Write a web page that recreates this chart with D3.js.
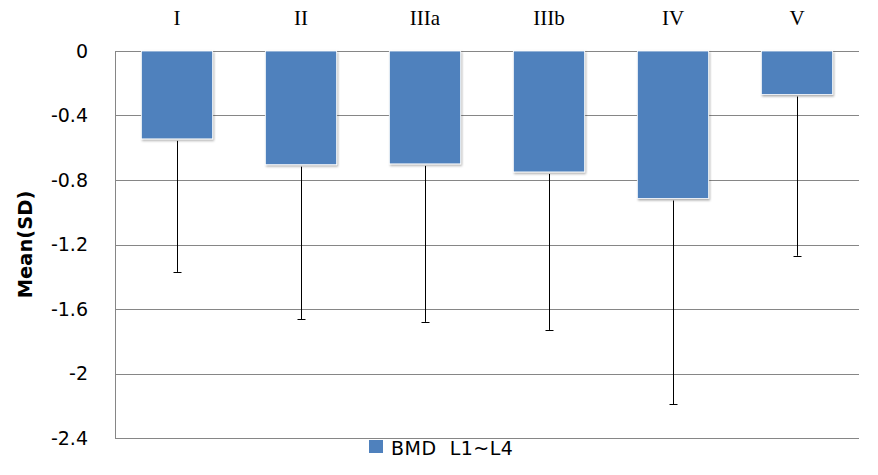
<!DOCTYPE html>
<html><head><meta charset="utf-8">
<script src="https://cdn.jsdelivr.net/npm/d3@7"></script>
<style>
body{margin:0;background:#fff;}
svg{display:block;}
</style></head>
<body>
<svg id="chart" width="878" height="475"></svg>
<script>
const categories = ["I","II","IIIa","IIIb","IV","V"];
const means = [-0.545, -0.705, -0.70, -0.75, -0.915, -0.27];
const lowerEnds = [-1.37, -1.665, -1.68, -1.73, -2.19, -1.27];
const yTicks = [0, -0.4, -0.8, -1.2, -1.6, -2, -2.4];
const seriesName = "BMD  L1~L4";
const yTitle = "Mean(SD)";

const svg = d3.select("#chart");
const m = {left:115, right:19, top:51, bottom:37};
const W = 878, H = 475;
const x = d3.scaleBand().domain(categories).range([m.left, W - m.right]).paddingInner(0.425).paddingOuter(0.2125);
const y = d3.scaleLinear().domain([-2.4, 0]).range([H - m.bottom, m.top]);

const defs = svg.append("defs");
const f = defs.append("filter").attr("id","sh").attr("x","-10%").attr("y","-10%").attr("width","130%").attr("height","130%");
f.append("feDropShadow").attr("dx",1).attr("dy",1.5).attr("stdDeviation",1).attr("flood-color","#000").attr("flood-opacity",0.35);

// gridlines
svg.append("g").selectAll("line").data(yTicks).join("line")
  .attr("x1", m.left).attr("x2", W - m.right)
  .attr("y1", d => Math.round(y(d)) + 0.5).attr("y2", d => Math.round(y(d)) + 0.5)
  .attr("stroke", "#868686").attr("stroke-width", 1);
// left axis line
svg.append("line").attr("x1", m.left + 0.5).attr("x2", m.left + 0.5)
  .attr("y1", y(0)).attr("y2", y(-2.4)).attr("stroke", "#868686");

const sans = "'DejaVu Sans', 'Noto Sans', sans-serif";
// y tick labels
svg.append("g").selectAll("text").data(yTicks).join("text")
  .attr("x", 88).attr("y", d => y(d)).attr("dy", "0.36em")
  .attr("text-anchor", "end")
  .attr("font-family", sans)
  .attr("font-size", 19).attr("fill", "#000")
  .text(d => String(d));

// y title
svg.append("text").attr("transform", `translate(32,${(y(0)+y(-2.4))/2}) rotate(-90)`)
  .attr("text-anchor","middle")
  .attr("font-family", sans)
  .attr("font-weight","bold").attr("font-size", 19.5).text(yTitle);

// bars
svg.append("g").selectAll("rect").data(categories).join("rect")
  .attr("x", d => x(d)).attr("y", y(0))
  .attr("width", x.bandwidth())
  .attr("height", (d,i) => y(means[i]) - y(0))
  .attr("fill", "#4F81BD").attr("stroke","#fff").attr("stroke-width",0.8)
  .attr("filter","url(#sh)");

// error bars
const eb = svg.append("g");
categories.forEach((c,i) => {
  const cx = Math.round(x(c) + x.bandwidth()/2) + 0.5;
  eb.append("line").attr("x1",cx).attr("x2",cx).attr("y1",y(means[i])+2).attr("y2",y(lowerEnds[i]))
    .attr("stroke","#000").attr("stroke-width",1);
  eb.append("line").attr("x1",cx-4).attr("x2",cx+4).attr("y1",Math.round(y(lowerEnds[i]))+0.5).attr("y2",Math.round(y(lowerEnds[i]))+0.5)
    .attr("stroke","#000").attr("stroke-width",1);
});

// category labels at top
svg.append("g").selectAll("text").data(categories).join("text")
  .attr("x", d => x(d) + x.bandwidth()/2).attr("y", 25)
  .attr("text-anchor","middle")
  .attr("font-family", "'Liberation Serif', 'DejaVu Serif', serif")
  .attr("font-size", 21).attr("fill","#000").text(d => d);

// legend
svg.append("rect").attr("x",369).attr("y",440).attr("width",14).attr("height",13).attr("fill","#4F81BD");
svg.append("text").attr("x",391).attr("y",455)
  .attr("font-family", sans).attr("letter-spacing", 0.5)
  .attr("font-size", 19).attr("fill","#000").style("white-space","pre").text(seriesName);
</script>
</body></html>
